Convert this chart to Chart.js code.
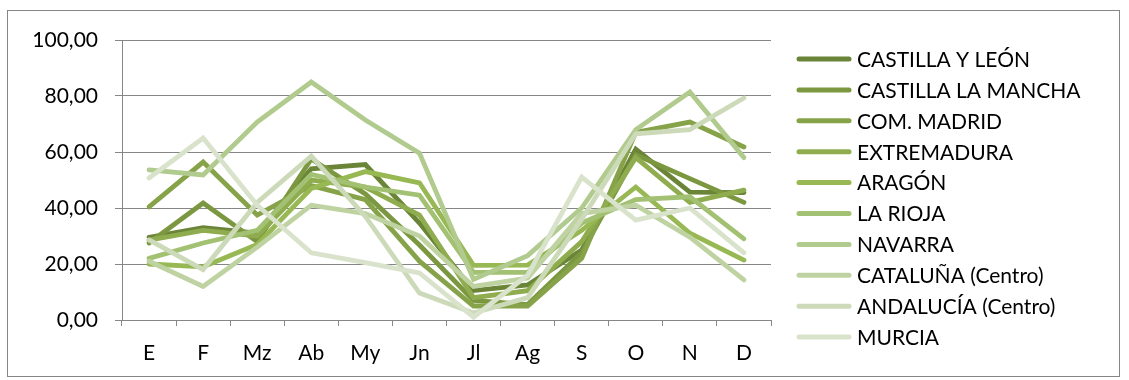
<!DOCTYPE html>
<html>
<head>
<meta charset="utf-8">
<script src="https://cdn.jsdelivr.net/npm/chart.js@4"></script>
<style>
  html, body { margin: 0; padding: 0; background: #fff; }
  #wrap { position: relative; width: 1129px; height: 380px; }
  #frame {
    position: absolute; left: 7px; top: 10px; width: 1113px; height: 367px;
    border: 1px solid #868686; box-sizing: border-box; pointer-events: none;
  }
  canvas { position: absolute; left: 0; top: 0; }
</style>
</head>
<body>
<div id="wrap">
  <canvas id="chart" width="1129" height="380"></canvas>
  <div id="frame"></div>
</div>
<script>
const months = ["E", "F", "Mz", "Ab", "My", "Jn", "Jl", "Ag", "S", "O", "N", "D"];
const yTicks = [0, 20, 40, 60, 80, 100];

const regions = [
  "CASTILLA Y LEÓN", "CASTILLA LA MANCHA", "COM. MADRID", "EXTREMADURA", "ARAGÓN",
  "LA RIOJA", "NAVARRA", "CATALUÑA (Centro)", "ANDALUCÍA (Centro)", "MURCIA"
];

const castillaLeon     = [29.5, 33, 31, 54, 55.5, 34.6, 10.5, 12.5, 25, 61, 45.7, 45.5];
const castillaMancha   = [27.5, 41.8, 28, 57.5, 45, 26.8, 7, 5.5, 24, 59, 50.5, 42];
const madrid           = [40.4, 56.4, 37.5, 48, 43, 21, 5, 5, 22, 67, 70.7, 61.8];
const extremadura      = [28.5, 32, 30, 50, 47.5, 37.5, 8, 10.5, 28, 58, 42, 46.4];
const aragon           = [20, 19, 27, 47, 53, 49, 19.5, 19.6, 32, 47.5, 31, 21.4];
const laRioja          = [22, 27.5, 32, 52, 47.5, 44.6, 17, 17, 34.6, 43, 44, 29];
const navarra          = [53.6, 51.8, 70.7, 85, 71.4, 59.6, 14.5, 23, 40, 68, 81.4, 58];
const cataluna         = [21, 12, 26, 41, 38, 30, 12, 15, 38, 41, 29.6, 14.3];
const andalucia        = [28.6, 18, 42, 58.5, 37, 9.6, 2.5, 8, 36, 66.5, 68, 79.3];
const murcia           = [50.7, 65, 41, 24, 20.5, 16.8, 1, 16, 51, 35.7, 40, 24];

const seriesValues = [castillaLeon, castillaMancha, madrid, extremadura, aragon,
                      laRioja, navarra, cataluna, andalucia, murcia];

const colors = ["#6b8538", "#7b9841", "#87a349", "#8fad4e", "#97b853",
                "#a3c172", "#b1cb8e", "#bfd3a2", "#cddab9", "#d9e3cc"];

const FONT = "Lato";
const FONT_SIZE = 21;
const axisGray = "#868686";

const datasets = regions.map((name, i) => ({
  label: name,
  data: seriesValues[i],
  borderColor: colors[i],
  backgroundColor: colors[i],
  borderWidth: 4.8,
  borderCapStyle: "round",
  borderJoinStyle: "miter",
  pointRadius: 0,
  tension: 0,
  order: regions.length - i   // later series painted on top
}));

// legend on the right, line swatch + label per series
const sideLegend = {
  id: "sideLegend",
  afterDraw(chart) {
    const ctx = chart.ctx;
    ctx.save();
    ctx.font = `${FONT_SIZE}px ${FONT}`;
    ctx.fillStyle = "#000";
    ctx.textBaseline = "alphabetic";
    ctx.textAlign = "left";
    chart.data.datasets.forEach((ds, i) => {
      const y = 59 + i * 30.9;
      ctx.strokeStyle = ds.borderColor;
      ctx.lineWidth = 5;
      ctx.lineCap = "round";
      ctx.beginPath();
      ctx.moveTo(799, y);
      ctx.lineTo(849, y);
      ctx.stroke();
      ctx.fillText(ds.label, 857, y + 7.8);
    });
    ctx.restore();
  }
};

new Chart(document.getElementById("chart"), {
  type: "line",
  data: { labels: months, datasets },
  options: {
    responsive: false,
    animation: false,
    layout: { padding: { left: 0, top: 40, right: 358, bottom: 0 } },
    plugins: {
      legend: { display: false },
      tooltip: { enabled: false }
    },
    scales: {
      x: {
        offset: true,
        grid: { display: true, drawOnChartArea: false, drawTicks: true, tickLength: 6,
                offset: true, color: axisGray, lineWidth: 1 },
        border: { display: true, color: axisGray, width: 1 },
        ticks: { color: "#000", font: { family: FONT, size: FONT_SIZE }, padding: 15,
                 maxRotation: 0, autoSkip: false },
        afterFit: (scale) => { scale.height = 60; }
      },
      y: {
        min: 0,
        max: 100,
        afterBuildTicks: (scale) => { scale.ticks = yTicks.map(v => ({ value: v })); },
        grid: { color: axisGray, lineWidth: 1, drawTicks: true, tickLength: 7 },
        border: { display: true, color: axisGray, width: 1 },
        ticks: {
          color: "#000",
          font: { family: FONT, size: FONT_SIZE },
          padding: 17,
          callback: (v) => v.toFixed(2).replace(".", ",")
        },
        afterFit: (scale) => { scale.width = 122; }
      }
    }
  },
  plugins: [sideLegend]
});
</script>
</body>
</html>
